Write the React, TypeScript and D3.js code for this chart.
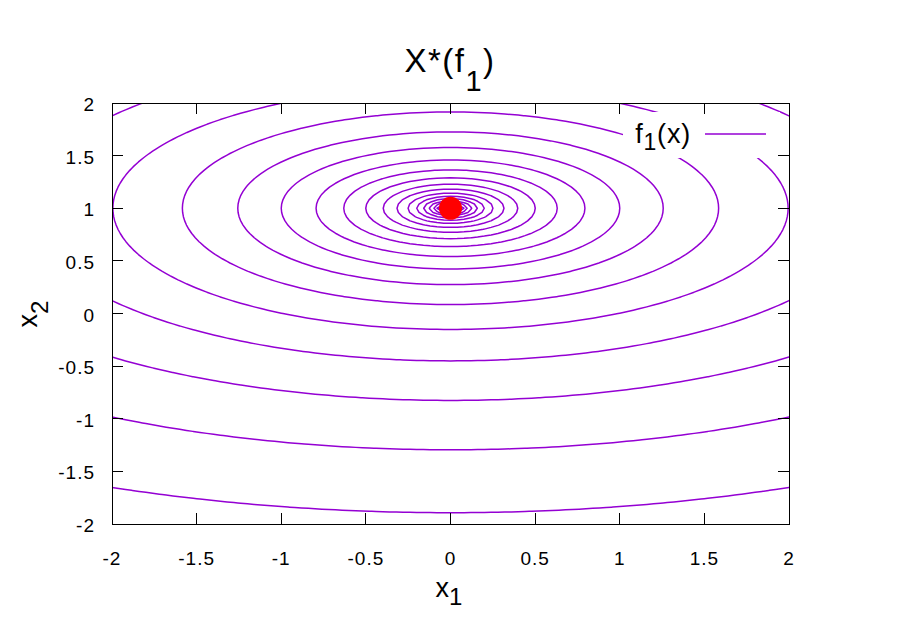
import React, { useEffect, useRef } from 'react';
import * as d3 from 'd3';

// axis ticks
const X_TICKS = [-2, -1.5, -1, -0.5, 0, 0.5, 1, 1.5, 2];
const Y_TICKS = [-2, -1.5, -1, -0.5, 0, 0.5, 1, 1.5, 2];

// contour levels (log spaced)
const LEVELS = [0.0063, 0.01, 0.0158, 0.0251, 0.0398, 0.0631, 0.1, 0.158, 0.251, 0.398, 0.631, 1, 1.58, 2.51, 3.98, 6.31, 10, 15.8, 25.1];

// f1(x) = w1*(x1-c1)^2 + w2*(x2-c2)^2
const F1_CENTER = [0, 1];
const F1_WEIGHTS = [1, 3];

// minimiser X*(f1)
const OPTIMUM = [{ x1: 0, x2: 1 }];

const GRID_MIN = -2.2;
const GRID_STEP = 0.04;
const GRID_N = 111;

const FONT = '"Liberation Sans", Arial, Helvetica, sans-serif';
const VIOLET = '#9400d3';

export default function App() {
  const svgRef = useRef<SVGSVGElement>(null);

  useEffect(() => {
    const width = 900;
    const height = 630;
    const svg = d3.select(svgRef.current).attr('width', width).attr('height', height);
    svg.selectAll('*').remove();

    const x = d3.scaleLinear().domain([-2, 2]).range([112, 789]);
    const y = d3.scaleLinear().domain([-2, 2]).range([524, 103]);
    const [x0, x1] = x.range();
    const [yb, yt] = y.range();

    svg.append('defs').append('clipPath').attr('id', 'plot-clip')
      .append('rect').attr('x', x0).attr('y', yt).attr('width', x1 - x0).attr('height', yb - yt);

    // sample f1 on a grid
    const f1 = (a: number, b: number) =>
      F1_WEIGHTS[0] * (a - F1_CENTER[0]) ** 2 + F1_WEIGHTS[1] * (b - F1_CENTER[1]) ** 2;
    const values: number[] = new Array(GRID_N * GRID_N);
    for (let j = 0; j < GRID_N; j++) {
      for (let i = 0; i < GRID_N; i++) {
        values[j * GRID_N + i] = f1(GRID_MIN + i * GRID_STEP, GRID_MIN + j * GRID_STEP);
      }
    }
    const contours = d3.contours().size([GRID_N, GRID_N]).thresholds(LEVELS)(values);

    const proj = d3.geoTransform({
      point(gx: number, gy: number) {
        (this as any).stream.point(
          x(GRID_MIN + (gx - 0.5) * GRID_STEP),
          y(GRID_MIN + (gy - 0.5) * GRID_STEP)
        );
      },
    });
    const path = d3.geoPath(proj);

    const g = svg.append('g').attr('clip-path', 'url(#plot-clip)');
    g.selectAll('path.contour').data(contours).join('path').attr('class', 'contour')
      .attr('d', d => path(d as any))
      .attr('fill', 'none').attr('stroke', VIOLET).attr('stroke-width', 1.5)
      .attr('stroke-linejoin', 'round');

    // key box clears the contours behind it
    svg.append('rect').attr('x', 623).attr('y', 112).attr('width', 157).attr('height', 46).attr('fill', '#fff');
    const key = svg.append('text').attr('x', 691).attr('y', 143).attr('text-anchor', 'end')
      .attr('font-family', FONT).attr('font-size', 27).attr('letter-spacing', 0.8).attr('fill', '#000');
    key.append('tspan').text('f');
    key.append('tspan').attr('dy', 7).attr('font-size', 23).text('1');
    key.append('tspan').attr('dy', -7).text('(x)');
    svg.append('line').attr('x1', 705).attr('x2', 766).attr('y1', 134).attr('y2', 134)
      .attr('stroke', VIOLET).attr('stroke-width', 1.5);

    // optimum point
    svg.selectAll('circle.opt').data(OPTIMUM).join('circle').attr('class', 'opt')
      .attr('cx', d => x(d.x1)).attr('cy', d => y(d.x2)).attr('r', 11.5).attr('fill', '#ff0000');

    // frame + mirrored inward ticks
    const frame = svg.append('g').attr('stroke', '#000').attr('stroke-width', 1).attr('shape-rendering', 'crispEdges');
    frame.append('rect').attr('x', x0).attr('y', yt).attr('width', x1 - x0).attr('height', yb - yt).attr('fill', 'none');
    const tl = 11;
    X_TICKS.forEach(t => {
      frame.append('line').attr('x1', x(t)).attr('x2', x(t)).attr('y1', yb).attr('y2', yb - tl);
      frame.append('line').attr('x1', x(t)).attr('x2', x(t)).attr('y1', yt).attr('y2', yt + tl);
    });
    Y_TICKS.forEach(t => {
      frame.append('line').attr('x1', x0).attr('x2', x0 + tl).attr('y1', y(t)).attr('y2', y(t));
      frame.append('line').attr('x1', x1).attr('x2', x1 - tl).attr('y1', y(t)).attr('y2', y(t));
    });

    // tick labels
    svg.selectAll('text.xt').data(X_TICKS).join('text').attr('class', 'xt')
      .attr('x', d => x(d)).attr('y', 565).attr('text-anchor', 'middle')
      .attr('font-family', FONT).attr('font-size', 19).attr('letter-spacing', 1)
      .text(d => String(d));
    svg.selectAll('text.yt').data(Y_TICKS).join('text').attr('class', 'yt')
      .attr('x', 95).attr('y', d => y(d) + 8).attr('text-anchor', 'end')
      .attr('font-family', FONT).attr('font-size', 19).attr('letter-spacing', 1)
      .text(d => String(d));

    // title
    const title = svg.append('text').attr('x', 450).attr('y', 72).attr('text-anchor', 'middle')
      .attr('font-family', FONT).attr('font-size', 33).attr('letter-spacing', 1.5);
    title.append('tspan').text('X*(f');
    title.append('tspan').attr('dy', 19).attr('font-size', 29).text('1');
    title.append('tspan').attr('dy', -19).text(')');

    // axis labels
    const xl = svg.append('text').attr('x', 449).attr('y', 597).attr('text-anchor', 'middle')
      .attr('font-family', FONT).attr('font-size', 27);
    xl.append('tspan').text('x');
    xl.append('tspan').attr('dy', 8).attr('font-size', 24).text('1');

    const yl = svg.append('text').attr('transform', 'translate(37,314) rotate(-90)').attr('text-anchor', 'middle')
      .attr('font-family', FONT).attr('font-size', 27);
    yl.append('tspan').text('x');
    yl.append('tspan').attr('dy', 11).attr('font-size', 24).text('2');
  }, []);

  return (
    <div style={{ position: 'absolute', left: 0, top: 0 }}>
      <svg ref={svgRef} style={{ display: 'block' }} />
    </div>
  );
}
